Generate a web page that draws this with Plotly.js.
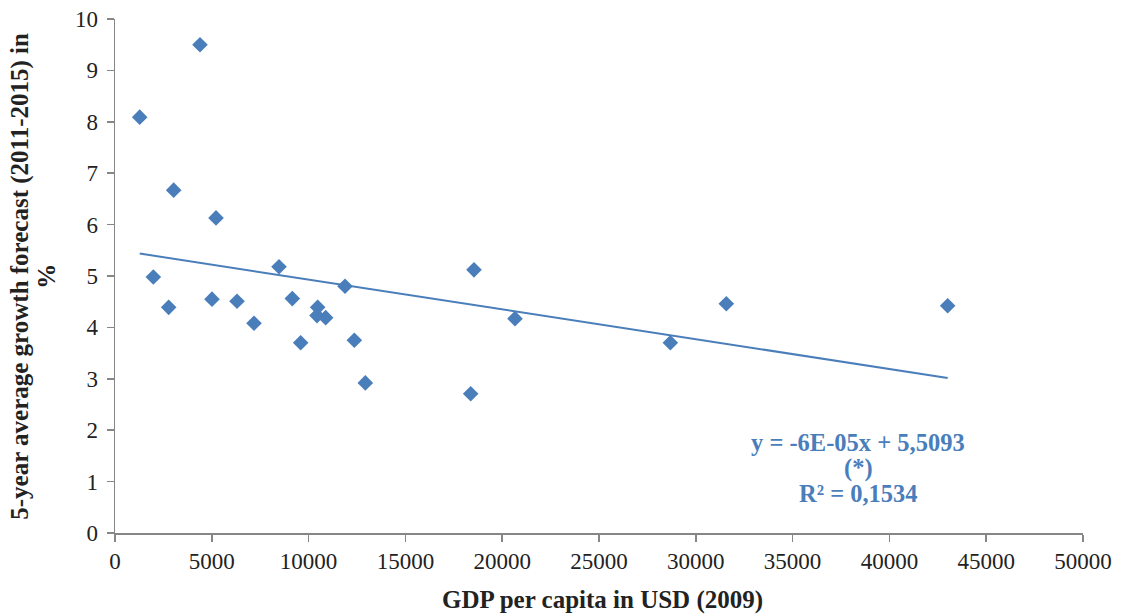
<!DOCTYPE html>
<html>
<head>
<meta charset="utf-8">
<script src="https://cdn.plot.ly/plotly-3.0.1.min.js"></script>
<style>
html,body{margin:0;padding:0;background:#fff;}
#chart{width:1130px;height:616px;}
</style>
</head>
<body>
<div id="chart"></div>
<script>
// GDP per capita in USD (2009)
const gdpPerCapita = [1276, 4390, 3031, 5217, 1980, 2772, 5010, 6302, 7180, 8471, 9158, 9590,
  10468, 10434, 10881, 11880, 12362, 12930, 18543, 18372, 20661, 28685, 31576, 43010];
// 5-year average growth forecast (2011-2015) in %
const growthForecast = [8.09, 9.50, 6.67, 6.13, 4.98, 4.39, 4.55, 4.51, 4.08, 5.18, 4.56, 3.70,
  4.39, 4.23, 4.19, 4.80, 3.75, 2.92, 5.12, 2.71, 4.17, 3.70, 4.46, 4.42];
const xTickValues = [0, 5000, 10000, 15000, 20000, 25000, 30000, 35000, 40000, 45000, 50000];
const yTickValues = [0, 1, 2, 3, 4, 5, 6, 7, 8, 9, 10];
const xTitle = "GDP per capita in USD (2009)";
const yTitleLines = ["5-year average growth forecast (2011-2015) in", "%"];
const equationLines = ["y = -6E-05x + 5,5093", "(*)", "R² = 0,1534"];

// least-squares trend line through the data
const n = gdpPerCapita.length;
const mx = gdpPerCapita.reduce((a, b) => a + b, 0) / n;
const my = growthForecast.reduce((a, b) => a + b, 0) / n;
let sxy = 0, sxx = 0;
for (let i = 0; i < n; i++) {
  sxy += (gdpPerCapita[i] - mx) * (growthForecast[i] - my);
  sxx += (gdpPerCapita[i] - mx) ** 2;
}
const slope = sxy / sxx;
const intercept = my - slope * mx;
const xMin = Math.min(...gdpPerCapita), xMax = Math.max(...gdpPerCapita);
const trendX = [xMin, xMax];
const trendY = trendX.map(v => intercept + slope * v);

const blue = '#4A7EBB';
const axisGrey = '#868686';
const textCol = '#222';
const serif = '"Liberation Serif", "DejaVu Serif", serif';

// plot-area geometry helpers (pixels -> paper fraction)
const L = 115, T = 19, W = 968, H = 514.5;
const px = x => (x - L) / W;
const py = y => (T + H - y) / H;

const traces = [
  {
    x: trendX, y: trendY, type: 'scatter', mode: 'lines',
    line: {color: blue, width: 2}, hoverinfo: 'skip', showlegend: false
  },
  {
    x: gdpPerCapita, y: growthForecast, type: 'scatter', mode: 'markers',
    marker: {symbol: 'diamond', size: 12, color: blue, line: {width: 0}},
    showlegend: false
  }
];

const annotations = [];
annotations.push({
  xref: 'paper', yref: 'paper', x: px(602), y: py(601),
  xanchor: 'center', yanchor: 'middle', showarrow: false,
  text: '<b>' + xTitle + '</b>', font: {family: serif, size: 25, color: textCol}
});
const yTitleX = [20, 47];
yTitleLines.forEach((t, i) => annotations.push({
  xref: 'paper', yref: 'paper', x: px(yTitleX[i]), y: py(277),
  xanchor: 'center', yanchor: 'middle', showarrow: false, textangle: -90,
  text: '<b>' + t + '</b>', font: {family: serif, size: 25, color: textCol}
}));
const eqY = [443, 468.5, 494];
equationLines.forEach((t, i) => annotations.push({
  xref: 'paper', yref: 'paper', x: px(858), y: py(eqY[i]),
  xanchor: 'center', yanchor: 'middle', showarrow: false,
  text: '<b>' + t + '</b>', font: {family: serif, size: 24.5, color: blue}
}));

const layout = {
  width: 1130, height: 616,
  margin: {l: L, r: 1130 - L - W, t: T, b: 616 - T - H, pad: 0},
  paper_bgcolor: '#fff', plot_bgcolor: '#fff',
  font: {family: serif, size: 22, color: textCol},
  showlegend: false,
  xaxis: {
    range: [0, 50000], tickvals: xTickValues, ticktext: xTickValues.map(String),
    showgrid: false, zeroline: false, showline: true, linecolor: axisGrey, linewidth: 1.5,
    ticks: 'outside', ticklen: 7, tickwidth: 1.5, tickcolor: axisGrey,
    tickfont: {family: serif, size: 23, color: textCol},
    automargin: false
  },
  yaxis: {
    range: [0, 10], tickvals: yTickValues, ticktext: yTickValues.map(String),
    showgrid: false, zeroline: false, showline: true, linecolor: axisGrey, linewidth: 1.5,
    ticks: 'outside', ticklen: 7, tickwidth: 1.5, tickcolor: axisGrey,
    tickfont: {family: serif, size: 23, color: textCol},
    ticklabelstandoff: 4,
    automargin: false
  },
  annotations: annotations
};

Plotly.newPlot('chart', traces, layout, {displayModeBar: false, staticPlot: true});
</script>
</body>
</html>
